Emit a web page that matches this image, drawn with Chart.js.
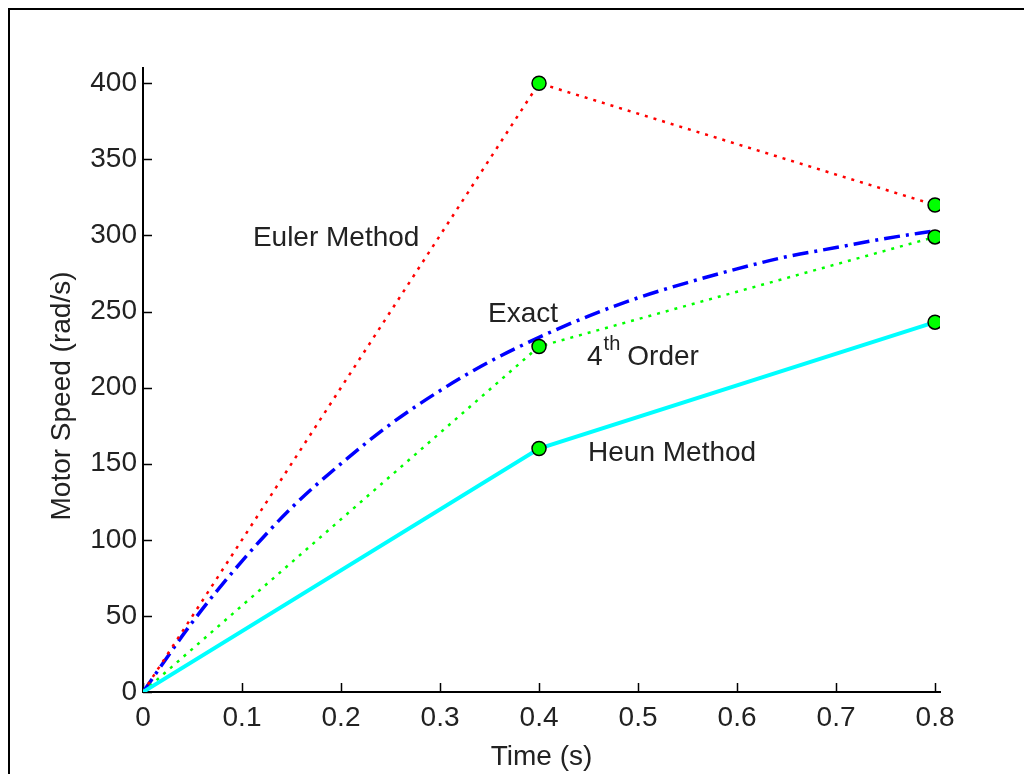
<!DOCTYPE html>
<html>
<head>
<meta charset="utf-8">
<script src="https://cdn.jsdelivr.net/npm/chart.js@4/dist/chart.umd.min.js"></script>
<style>
  html, body { margin: 0; padding: 0; background: #fff; overflow: hidden; }
  #wrap { position: relative; width: 1024px; height: 774px; overflow: hidden; }
  #frame { position: absolute; left: 8px; top: 8px; width: 1100px; height: 900px;
           border: 2px solid #000; pointer-events: none; }
  canvas { position: absolute; left: 0; top: 0; }
</style>
</head>
<body>
<div id="wrap">
  <canvas id="graph" width="1024" height="774"></canvas>
  <div id="frame"></div>
</div>
<script>
// numerical solution steps (h = 0.4 s)
const stepTimes = [0, 0.4, 0.8];
const euler = [0, 400, 320];
const heun = [0, 160, 243];
const rk4 = [0, 227, 299];

// exact response
const exactTimes = [0, 0.05, 0.1, 0.15, 0.2, 0.25, 0.3, 0.35, 0.4, 0.45, 0.5, 0.55, 0.6, 0.65, 0.7, 0.75, 0.8];
const exact = [0, 46, 86, 121, 150, 176, 198, 217, 233, 247, 259, 269, 278, 286, 292, 298, 303];

const xTicks = [0, 0.1, 0.2, 0.3, 0.4, 0.5, 0.6, 0.7, 0.8];
const yTicks = [0, 50, 100, 150, 200, 250, 300, 350, 400];

// text labels placed in data coordinates (left edge, baseline)
const notes = [
	{ text: 'Euler Method', x: 0.111, y: 293 },
	{ text: 'Exact', x: 0.3485, y: 243 },
	{ text: 'Heun Method', x: 0.4495, y: 152 },
];
const orderNote = { x: 0.4485, y: 215 };

const font = "'Liberation Sans', Arial, sans-serif";
const ink = '#222';

const pts = (xs, ys) => xs.map((x, i) => ({ x: x, y: ys[i] }));
const markerRadius = [0, 7, 7];

const extras = {
	id: 'extras',
	beforeDatasetsDraw(chart) {
		const ctx = chart.ctx;
		const xs = chart.scales.x;
		const ys = chart.scales.y;
		const a = chart.chartArea;
		ctx.save();
		ctx.strokeStyle = '#000';
		ctx.lineWidth = 1.5;
		ctx.beginPath();
		xTicks.forEach((v) => {
			const px = Math.round(xs.getPixelForValue(v)) + 0.5;
			ctx.moveTo(px, a.bottom);
			ctx.lineTo(px, a.bottom - 9);
		});
		yTicks.forEach((v) => {
			const py = Math.round(ys.getPixelForValue(v)) + 0.5;
			ctx.moveTo(a.left, py);
			ctx.lineTo(a.left + 9, py);
		});
		ctx.stroke();
		ctx.restore();
	},
	afterDatasetsDraw(chart) {
		const ctx = chart.ctx;
		const xs = chart.scales.x;
		const ys = chart.scales.y;
		const a = chart.chartArea;
		ctx.save();
		ctx.fillStyle = ink;
		ctx.textBaseline = 'alphabetic';
		ctx.textAlign = 'left';
		ctx.font = '28px ' + font;
		notes.forEach((n) => {
			ctx.fillText(n.text, xs.getPixelForValue(n.x), ys.getPixelForValue(n.y));
		});
		// 4th Order with superscript
		let ox = xs.getPixelForValue(orderNote.x);
		const oy = ys.getPixelForValue(orderNote.y);
		ctx.fillText('4', ox, oy);
		ox += ctx.measureText('4').width + 1;
		ctx.font = '20px ' + font;
		ctx.fillText('th', ox, oy - 15);
		ox += ctx.measureText('th').width + 7;
		ctx.font = '28px ' + font;
		ctx.fillText('Order', ox, oy);

		// axis titles
		ctx.textAlign = 'center';
		ctx.fillText('Time (s)', (a.left + a.right) / 2, 765);
		ctx.translate(70, 396);
		ctx.rotate(-Math.PI / 2);
		ctx.fillText('Motor Speed (rad/s)', 0, 0);
		ctx.restore();
	},
};

const data = {
	datasets: [
		{
			label: 'Exact',
			data: pts(exactTimes, exact),
			borderColor: '#0000ff',
			borderWidth: 3.5,
			borderDash: [16, 6, 3, 6],
			cubicInterpolationMode: 'monotone',
			pointRadius: 0,
			order: 4,
		},
		{
			label: 'Euler Method',
			data: pts(stepTimes, euler),
			borderColor: '#ff0000',
			borderWidth: 2.5,
			borderDash: [3, 6],
			pointRadius: markerRadius,
			pointBackgroundColor: '#00ff00',
			pointBorderColor: '#000',
			pointBorderWidth: 1.5,
			order: 3,
		},
		{
			label: '4th Order',
			data: pts(stepTimes, rk4),
			borderColor: '#00ff00',
			borderWidth: 2.5,
			borderDash: [3, 6],
			pointRadius: markerRadius,
			pointBackgroundColor: '#00ff00',
			pointBorderColor: '#000',
			pointBorderWidth: 1.5,
			order: 2,
		},
		{
			label: 'Heun Method',
			data: pts(stepTimes, heun),
			borderColor: '#00ffff',
			borderWidth: 4,
			pointRadius: markerRadius,
			pointBackgroundColor: '#00ff00',
			pointBorderColor: '#000',
			pointBorderWidth: 1.5,
			order: 1,
		},
	],
};

const config = {
	type: 'line',
	data: data,
	options: {
		responsive: false,
		animation: false,
		devicePixelRatio: 1,
		layout: { padding: { left: 0, top: 68, right: 84, bottom: 0 } },
		elements: { line: { tension: 0 } },
		plugins: {
			legend: { display: false },
			tooltip: { enabled: false },
		},
		scales: {
			x: {
				type: 'linear',
				min: 0,
				max: 0.805,
				afterBuildTicks: (s) => { s.ticks = xTicks.map((v) => ({ value: v })); },
				afterFit: (s) => { s.height = 82; },
				grid: { display: false, drawTicks: false },
				border: { display: true, color: '#000', width: 2 },
				ticks: {
					padding: 9,
					color: ink,
					font: { family: font, size: 28 },
					maxRotation: 0,
					callback: (v) => String(v),
				},
			},
			y: {
				type: 'linear',
				min: 0,
				max: 410,
				afterBuildTicks: (s) => { s.ticks = yTicks.map((v) => ({ value: v })); },
				afterFit: (s) => { s.width = 143; },
				grid: { display: false, drawTicks: false },
				border: { display: true, color: '#000', width: 2 },
				ticks: {
					padding: 6,
					color: ink,
					font: { family: font, size: 28 },
					callback: (v) => String(v),
				},
			},
		},
	},
	plugins: [extras],
};

const c = new Chart(document.getElementById('graph'), config);
</script>
</body>
</html>
